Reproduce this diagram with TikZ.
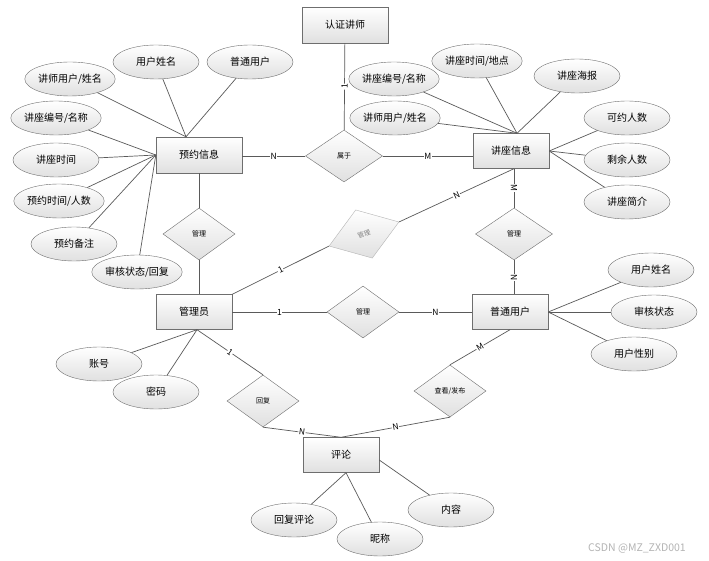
\documentclass[tikz,border=0pt]{standalone}
\usepackage{fontspec}
\setmainfont{Noto Sans CJK SC}
\usetikzlibrary{shapes.geometric}
\definecolor{erLine}{HTML}{5A5A5A}
\definecolor{erEdge}{HTML}{6E6E6E}
\definecolor{erShade}{HTML}{E0E0E0}
\definecolor{erFaint}{HTML}{B4B4B4}

\begin{document}
\begin{tikzpicture}[x=1pt,y=-1pt,font=\fontsize{10}{12}\selectfont,
  ent/.style={draw=erEdge,top color=white,bottom color=erShade,minimum width=76,minimum height=35,inner sep=0pt},
  rel/.style={diamond,draw=erEdge,top color=white,bottom color=erShade,minimum width=72,minimum height=52,inner sep=0pt,font=\fontsize{7}{8}\selectfont},
  attr/.style={ellipse,draw=erEdge,top color=white,bottom color=erShade,minimum width=86,minimum height=34,inner sep=0pt},
  link/.style={draw=erLine,line width=0.7pt},
  card/.style={font=\fontsize{8.5}{9}\selectfont,fill=white,inner sep=0.6pt,sloped,midway}]
  \useasboundingbox[fill=white] (0,0) rectangle (709,561);
  % entities
  \node[ent,minimum width=86,minimum height=36] (rzjs) at (345,25) {认证讲师};
  \node[ent,minimum width=86,minimum height=36] (yyxx) at (199,155) {预约信息};
  \node[ent] (jzxx) at (511,151) {讲座信息};
  \node[ent] (gly) at (194,312) {管理员};
  \node[ent] (ptyh) at (510,312) {普通用户};
  \node[ent] (pl) at (341,455) {评论};
  % relations
  \node[rel,minimum width=77] (sy) at (344,156) {属于};
  \node[rel] (gl1) at (199,234) {管理};
  \node[rel,minimum width=74,minimum height=51,rotate=19,draw=erFaint,text=gray,font=\fontsize{6.5}{7}\selectfont] (gl2) at (364,234) {管理};
  \node[rel,minimum width=77] (gl3) at (514,234) {管理};
  \node[rel] (gl4) at (363,312) {管理};
  \node[rel] (hf) at (263,401) {回复};
  \node[rel] (ckfb) at (450,391) {查看/发布};
  % attributes
  \foreach \n/\x/\y/\t in {ya1/70/79/{讲师用户/姓名},ya2/156/62/用户姓名,ya3/250/62/普通用户,
      ya4/56/118/{讲座编号/名称},ya5/56/160/讲座时间,ya6/59/201/{预约时间/人数},ya7/74/244/预约备注,ya8/137/272/{审核状态/回复},
      ja1/394/79/{讲座编号/名称},ja2/477/61/{讲座时间/地点},ja3/577/76/讲座海报,ja4/395/118/{讲师用户/姓名},
      ja5/627/118/可约人数,ja6/627/160/剩余人数,ja7/627/202/讲座简介,
      pa1/651/270/用户姓名,pa2/654/312/审核状态,pa3/634/354/用户性别,
      ga1/99/364/账号,ga2/156/392/密码,
      pla1/294/520/回复评论,pla2/380/539/昵称,pla3/451/510/内容}
    \node[attr] (\n) at (\x,\y) {\t};
  \foreach \n in {ya1,ya2,ya3} \draw[link] (\n) -- ([xshift=-13pt]yyxx.north);
  \foreach \n in {ya4,ya5,ya6,ya7,ya8} \draw[link] (\n) -- (yyxx.west);
  \foreach \n in {ja1,ja2,ja3,ja4} \draw[link] (\n) -- ([xshift=6pt]jzxx.north);
  \foreach \n in {ja5,ja6,ja7} \draw[link] (\n) -- (jzxx.east);
  \foreach \n in {pa1,pa2,pa3} \draw[link] (\n) -- (ptyh.east);
  \foreach \n in {ga1,ga2} \draw[link] (\n) -- ([xshift=3pt]gly.south);
  \foreach \n in {pla1,pla2} \draw[link] (\n) -- ([xshift=5pt]pl.south);
  \draw[link] (pla3) -- ([yshift=-5pt]pl.east);
  % relationships
  \draw[link] (rzjs) -- node[card]{1} (sy);
  \draw[link] (yyxx.east |- sy.west) -- node[card]{N} (sy.west);
  \draw[link] (sy.east) -- node[card]{M} (sy.east -| jzxx.west);
  \draw[link] (yyxx.south -| gl1.north) -- (gl1.north);
  \draw[link] (gl1.south) -- (gl1.south |- gly.north);
  \draw[link] (gly.north east) -- node[card]{1} (gl2.west);
  \draw[link] (gl2.east) -- node[card]{N} ([xshift=3pt]jzxx.south);
  \draw[link] (gl3.north |- jzxx.south) -- node[card]{M} (gl3.north);
  \draw[link] (gl3.south) -- node[card]{N} (gl3.south |- ptyh.north);
  \draw[link] (gly) -- node[card]{1} (gl4);
  \draw[link] (gl4) -- node[card]{N} (ptyh);
  \draw[link] ([xshift=3pt]gly.south) -- node[card]{1} (hf.north);
  \draw[link] (hf.south) -- node[card]{N} (pl.north);
  \draw[link] (ckfb.south) -- node[card]{N} (pl.north);
  \draw[link] (ptyh.south) -- node[card]{M} (ckfb.north);
  \node[text=erFaint,font=\fontsize{10.5}{12}\selectfont] (csdn) at (637,548) {CSDN @MZ\_ZXD001};
\end{tikzpicture}
\end{document}
